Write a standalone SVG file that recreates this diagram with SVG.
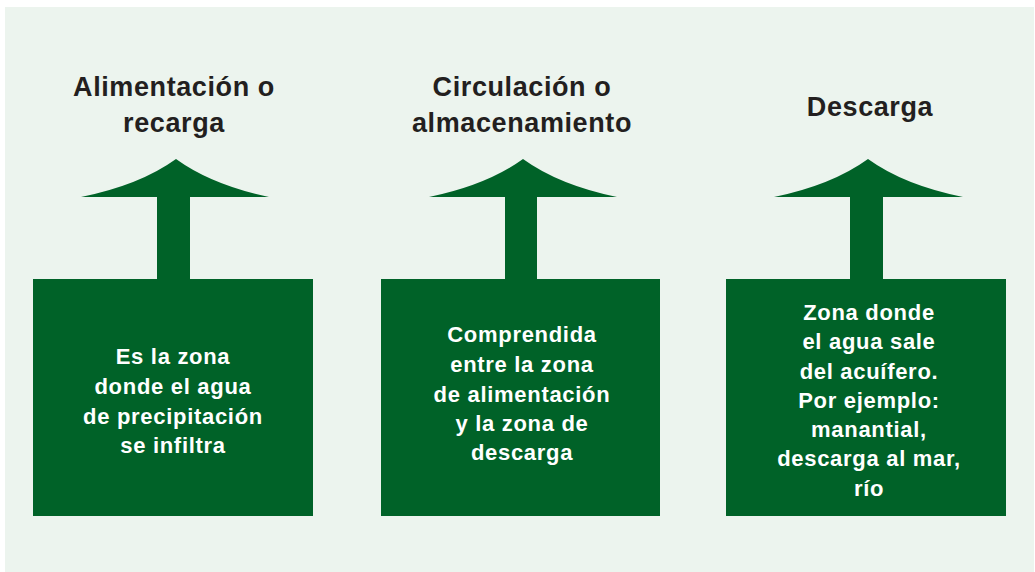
<svg xmlns="http://www.w3.org/2000/svg" width="1035" height="572" viewBox="0 0 1035 572">
<style>
.bg{fill:#ecf4ee}
.box{fill:#006228}
.arrow{fill:#006228}
.head{font-family:"Liberation Sans",Arial,sans-serif;font-weight:bold;font-size:27px;fill:#231f20;text-anchor:middle;letter-spacing:0.6px}
.body{font-family:"Liberation Sans",Arial,sans-serif;font-weight:bold;font-size:22px;fill:#ffffff;text-anchor:middle;letter-spacing:0.7px}
</style>
<rect class="bg" x="5" y="7" width="1029" height="565"/>
<g id="connectors">
<path class="arrow" d="M176,159 Q140,185 81,197 L157,197 L157,280 L190,280 L190,197 L269,197 Q212,185 176,159 Z"/>
<path class="arrow" d="M523,159 Q487,185 429,197 L505,197 L505,280 L537,280 L537,197 L617,197 Q559,185 523,159 Z"/>
<path class="arrow" d="M868,159 Q832,185 774,197 L850,197 L850,280 L883,280 L883,197 L963,197 Q904,185 868,159 Z"/>
</g>
<g id="title1">
<text class="head" x="174" y="96">Alimentación o</text>
<text class="head" x="174" y="132">recarga</text>
</g>
<g id="title2">
<text class="head" x="522" y="96">Circulación o</text>
<text class="head" x="522" y="132">almacenamiento</text>
</g>
<g id="title3">
<text class="head" x="870" y="116">Descarga</text>
</g>
<g id="box1">
<rect class="box" x="33" y="279" width="280" height="237"/>
<text class="body" x="173" y="364">Es la zona</text>
<text class="body" x="173" y="394">donde el agua</text>
<text class="body" x="173" y="424">de precipitación</text>
<text class="body" x="173" y="453">se infiltra</text>
</g>
<g id="box2">
<rect class="box" x="381" y="279" width="279" height="237"/>
<text class="body" x="522" y="342">Comprendida</text>
<text class="body" x="522" y="372">entre la zona</text>
<text class="body" x="522" y="402">de alimentación</text>
<text class="body" x="522" y="431">y la zona de</text>
<text class="body" x="522" y="460">descarga</text>
</g>
<g id="box3">
<rect class="box" x="726" y="279" width="280" height="237"/>
<text class="body" x="869" y="320">Zona donde</text>
<text class="body" x="869" y="349">el agua sale</text>
<text class="body" x="869" y="379">del acuífero.</text>
<text class="body" x="869" y="408">Por ejemplo:</text>
<text class="body" x="869" y="437">manantial,</text>
<text class="body" x="869" y="466">descarga al mar,</text>
<text class="body" x="869" y="496">río</text>
</g>
</svg>
